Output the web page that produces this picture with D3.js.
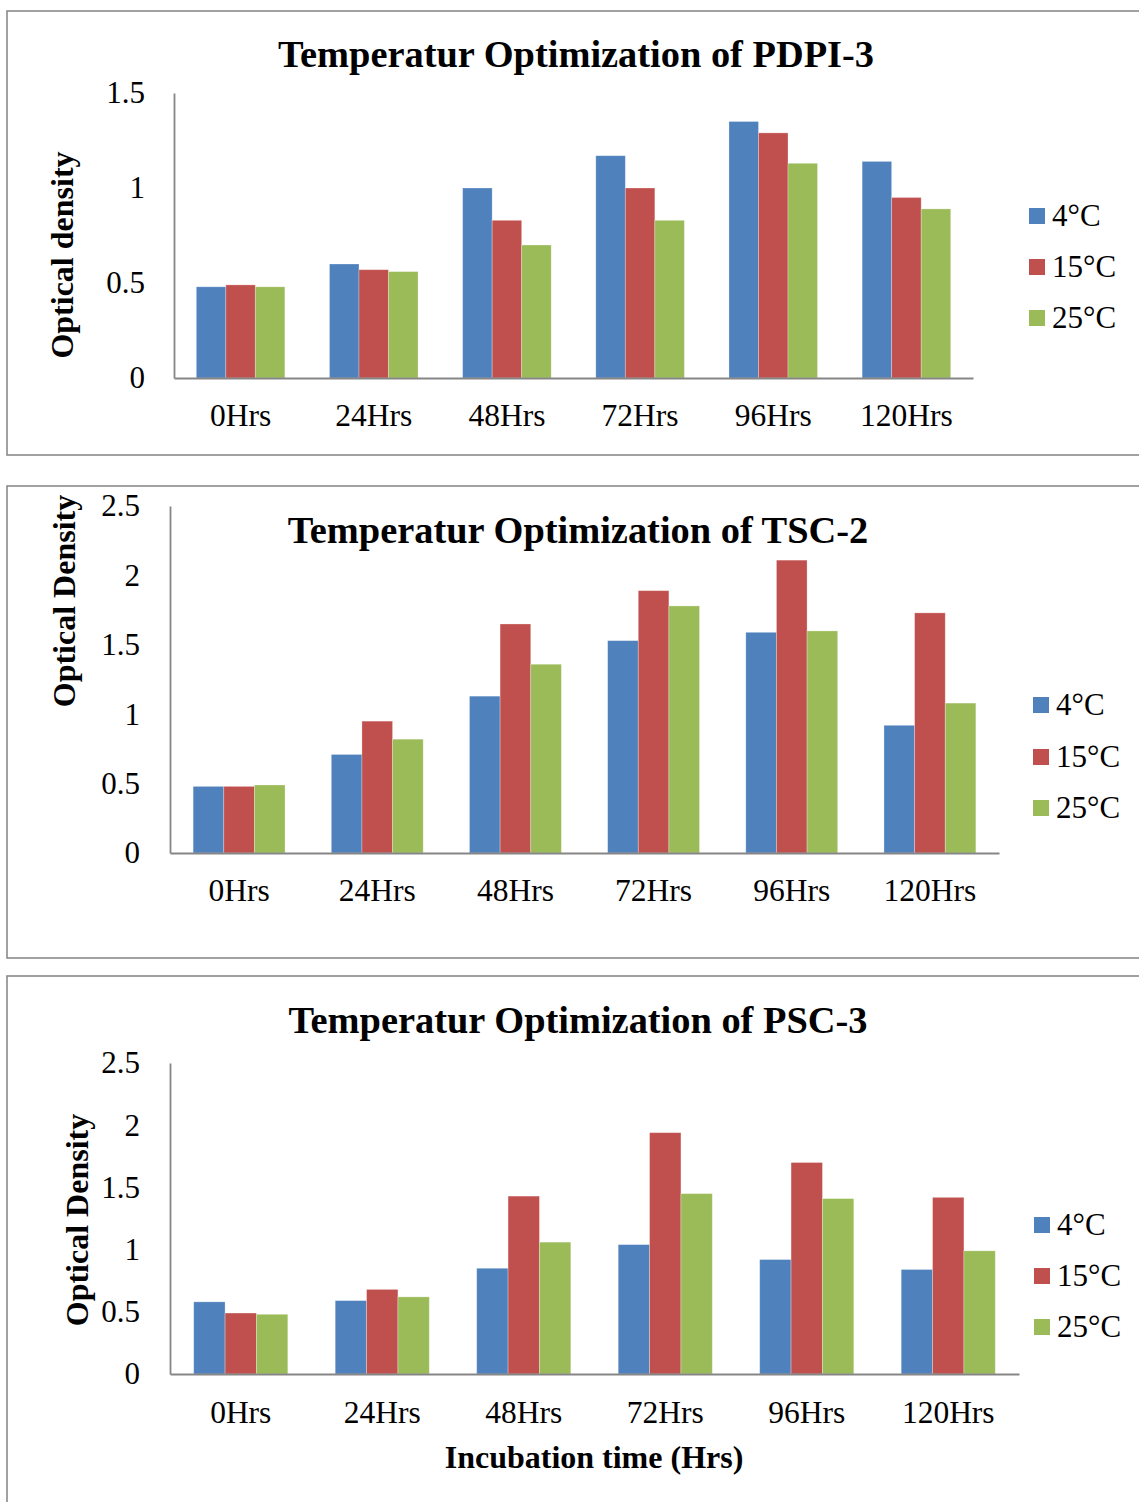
<!DOCTYPE html>
<html>
<head>
<meta charset="utf-8">
<script src="https://cdn.jsdelivr.net/npm/d3@7"></script>
<style>
  html, body { margin: 0; padding: 0; background: #fff; }
  svg { display: block; }
  text { font-family: "Liberation Serif", "Times New Roman", serif; fill: #000; }
</style>
</head>
<body>
<svg id="chart" width="1139" height="1502"></svg>
<script>
// ---------- DATA ----------
const categories = ["0Hrs", "24Hrs", "48Hrs", "72Hrs", "96Hrs", "120Hrs"];
const seriesNames = ["4°C", "15°C", "25°C"];
const seriesColors = ["#4F81BD", "#C0504D", "#9BBB59"];

const pdpi3_4C  = [0.48, 0.60, 1.00, 1.17, 1.35, 1.14];
const pdpi3_15C = [0.49, 0.57, 0.83, 1.00, 1.29, 0.95];
const pdpi3_25C = [0.48, 0.56, 0.70, 0.83, 1.13, 0.89];
const pdpi3Ticks = [0, 0.5, 1, 1.5];

const tsc2_4C  = [0.48, 0.71, 1.13, 1.53, 1.59, 0.92];
const tsc2_15C = [0.48, 0.95, 1.65, 1.89, 2.11, 1.73];
const tsc2_25C = [0.49, 0.82, 1.36, 1.78, 1.60, 1.08];
const tsc2Ticks = [0, 0.5, 1, 1.5, 2, 2.5];

const psc3_4C  = [0.58, 0.59, 0.85, 1.04, 0.92, 0.84];
const psc3_15C = [0.49, 0.68, 1.43, 1.94, 1.70, 1.42];
const psc3_25C = [0.48, 0.62, 1.06, 1.45, 1.41, 0.99];
const psc3Ticks = [0, 0.5, 1, 1.5, 2, 2.5];

const titles = ["Temperatur Optimization of PDPI-3", "Temperatur Optimization of TSC-2", "Temperatur Optimization of PSC-3"];
const yTitles = ["Optical density", "Optical Density", "Optical Density"];
const xTitle = "Incubation time (Hrs)";

// ---------- LAYOUT ----------
const svg = d3.select("#chart");
const axisColor = "#868686";
const borderColor = "#8a8a8a";

const panels = [
  { series: [pdpi3_4C, pdpi3_15C, pdpi3_25C], ticks: pdpi3Ticks, title: titles[0], yTitle: yTitles[0],
    box: [7, 11, 1300, 444], x0: 174, x1: 973, yTop: 93, yBot: 378, tickRight: 145,
    titleY: 67, titleX: 576, yTitleX: 62, yTitleY: 255, legendX: 1029, legendY: [216, 267, 318], catY: 426 },
  { series: [tsc2_4C, tsc2_15C, tsc2_25C], ticks: tsc2Ticks, title: titles[1], yTitle: yTitles[1],
    box: [7, 486, 1300, 472], x0: 170, x1: 999, yTop: 506, yBot: 853, tickRight: 140,
    titleY: 543, titleX: 578, yTitleX: 64, yTitleY: 601, legendX: 1033, legendY: [705, 757, 808], catY: 901 },
  { series: [psc3_4C, psc3_15C, psc3_25C], ticks: psc3Ticks, title: titles[2], yTitle: yTitles[2],
    box: [7, 976, 1300, 700], x0: 170, x1: 1019, yTop: 1063, yBot: 1374, tickRight: 140,
    titleY: 1033, titleX: 578, yTitleX: 77, yTitleY: 1220, legendX: 1034, legendY: [1225, 1276, 1327], catY: 1423,
    xTitle: xTitle, xTitleX: 594, xTitleY: 1468 }
];

panels.forEach(p => {
  const g = svg.append("g");
  // panel border
  g.append("rect")
    .attr("x", p.box[0]).attr("y", p.box[1])
    .attr("width", p.box[2]).attr("height", p.box[3])
    .attr("fill", "none").attr("stroke", borderColor).attr("stroke-width", 1.6);

  const yMax = p.ticks[p.ticks.length - 1];
  const y = d3.scaleLinear().domain([0, yMax]).range([p.yBot, p.yTop]);
  const x = d3.scaleBand().domain(categories).range([p.x0, p.x1])
    .paddingInner(0.335).paddingOuter(0.1675);
  const xs = d3.scaleBand().domain(d3.range(seriesNames.length)).range([0, x.bandwidth()]).padding(0);

  // bars
  p.series.forEach((vals, si) => {
    g.append("g").selectAll("rect")
      .data(vals)
      .join("rect")
      .attr("x", (d, i) => x(categories[i]) + xs(si))
      .attr("width", xs.bandwidth())
      .attr("y", d => y(d))
      .attr("height", d => y(0) - y(d))
      .attr("fill", seriesColors[si])
      .attr("stroke", "rgba(255,255,255,0.35)")
      .attr("stroke-width", 0.8);
  });

  // y axis
  const yAxis = g.append("g")
    .attr("transform", `translate(${p.x0},0)`)
    .call(d3.axisLeft(y).tickValues(p.ticks).tickSize(0).tickSizeOuter(0).tickPadding(p.x0 - p.tickRight)
      .tickFormat(d3.format("")));
  yAxis.select(".domain").attr("stroke", axisColor).attr("stroke-width", 1.8);
  yAxis.selectAll("text")
    .style("font-family", '"Liberation Serif", "Times New Roman", serif')
    .style("font-size", "31px").attr("fill", "#000");

  // x axis
  const xAxis = g.append("g")
    .attr("transform", `translate(0,${p.yBot})`)
    .call(d3.axisBottom(x).tickSize(0).tickSizeOuter(0).tickPadding(0));
  xAxis.select(".domain").attr("stroke", axisColor).attr("stroke-width", 1.8);
  xAxis.selectAll("text")
    .attr("dy", null)
    .attr("y", p.catY - p.yBot)
    .style("font-family", '"Liberation Serif", "Times New Roman", serif')
    .style("font-size", "31.5px").attr("fill", "#000");

  // title
  g.append("text")
    .attr("x", p.titleX).attr("y", p.titleY)
    .attr("text-anchor", "middle")
    .style("font-size", "38.4px").style("font-weight", "bold")
    .text(p.title);

  // y title
  g.append("text")
    .attr("transform", `translate(${p.yTitleX},${p.yTitleY}) rotate(-90)`)
    .attr("text-anchor", "middle").attr("dy", "0.35em")
    .style("font-size", "32px").style("font-weight", "bold")
    .text(p.yTitle);

  // x title
  if (p.xTitle) {
    g.append("text")
      .attr("x", p.xTitleX).attr("y", p.xTitleY)
      .attr("text-anchor", "middle")
      .style("font-size", "32px").style("font-weight", "bold")
      .text(p.xTitle);
  }

  // legend
  const lg = g.append("g");
  seriesNames.forEach((name, si) => {
    const cy = p.legendY[si];
    lg.append("rect")
      .attr("x", p.legendX).attr("y", cy - 8)
      .attr("width", 16).attr("height", 16)
      .attr("fill", seriesColors[si]);
    lg.append("text")
      .attr("x", p.legendX + 23).attr("y", cy + 10)
      .style("font-size", "31px")
      .text(name);
  });
});
</script>
</body>
</html>
